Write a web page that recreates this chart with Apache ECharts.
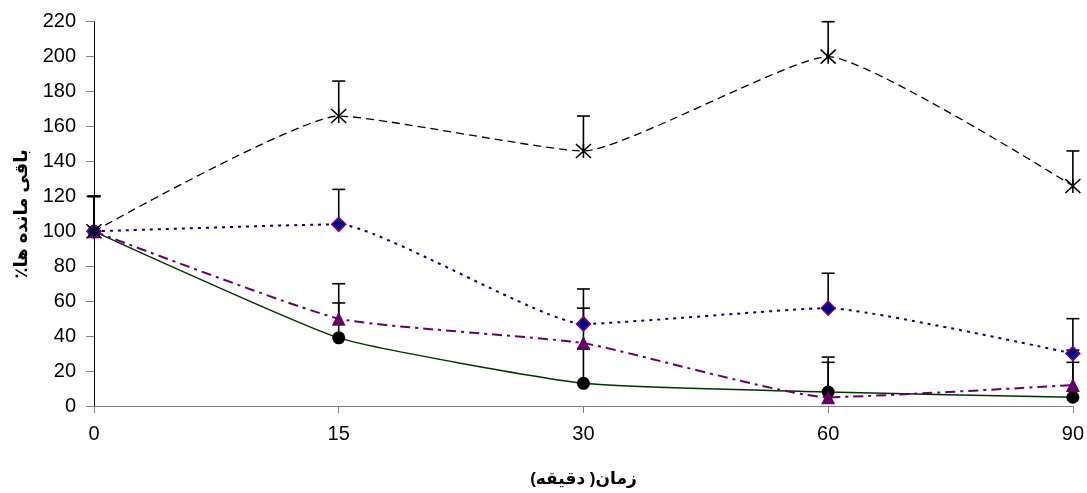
<!DOCTYPE html>
<html>
<head>
<meta charset="utf-8">
<script src="https://cdn.jsdelivr.net/npm/echarts@6/dist/echarts.min.js"></script>
<style>
html,body{margin:0;padding:0;background:#fff;}
#chart{width:1087px;height:493px;}
</style>
</head>
<body>
<div id="chart"></div>
<script>
const categories = ['0', '15', '30', '60', '90'];
const yTicks = [0, 20, 40, 60, 80, 100, 120, 140, 160, 180, 200, 220];
const starValues = [100, 166, 146, 200, 126];
const diamondValues = [100, 104, 47, 56, 30];
const triangleValues = [100, 50, 36, 5, 12];
const circleValues = [100, 39, 13, 8, 5];
const starErr = [20, 20, 20, 20, 20];
const diamondErr = [20, 20, 20, 20, 20];
const triangleErr = [20, 20, 20, 20, 20];
const circleErr = [20, 20, 20, 20, 20];
// RLM marks give the titles a right-to-left layout, as in the original
const xTitle = '\u200Fزمان( دقیقه)\u200F';
const yTitle = '\u200Fباقی مانده ها٪\u200F';

const FONT = '"Liberation Sans", Arial, "DejaVu Sans", sans-serif';

function errData(vals, errs) {
  return vals.map((v, i) => [i, v, v + errs[i]]);
}
const allErr = [].concat(
  errData(circleValues, circleErr),
  errData(triangleValues, triangleErr),
  errData(diamondValues, diamondErr),
  errData(starValues, starErr)
);

const chart = echarts.init(document.getElementById('chart'), null, {renderer: 'canvas'});
const SM = 0.15;
chart.setOption({
  animation: false,
  backgroundColor: '#fff',
  grid: {left: 94, right: 14, top: 21.7, bottom: 85, containLabel: false},
  xAxis: {
    type: 'category',
    data: categories,
    boundaryGap: false,
    axisLine: {lineStyle: {color: '#808080', width: 1}},
    axisTick: {show: true, alignWithLabel: true, length: 7, lineStyle: {color: '#808080'}},
    axisLabel: {color: '#000', fontSize: 20, fontFamily: FONT, margin: 18},
    splitLine: {show: false},
    name: xTitle,
    nameLocation: 'middle',
    nameGap: 65,
    nameTextStyle: {color: '#000', fontSize: 17, fontWeight: 'bold', fontFamily: FONT}
  },
  yAxis: {
    type: 'value',
    min: yTicks[0],
    max: yTicks[yTicks.length - 1],
    interval: 20,
    axisLine: {show: true, lineStyle: {color: '#000', width: 1}},
    axisTick: {show: true, length: 8, lineStyle: {color: '#808080'}},
    axisLabel: {color: '#000', fontSize: 20, fontFamily: FONT, margin: 18},
    splitLine: {show: false},
    name: yTitle,
    nameLocation: 'middle',
    nameGap: 63,
    nameTextStyle: {color: '#000', fontSize: 18, fontWeight: 'bold', fontFamily: FONT}
  },
  series: [
    {
      type: 'custom',
      z: 1,
      data: allErr,
      renderItem: function (params, api) {
        const x = api.value(0);
        const p0 = api.coord([x, api.value(1)]);
        const p1 = api.coord([x, api.value(2)]);
        const hw = 6.5;
        const st = {stroke: '#000', lineWidth: 1.6};
        return {
          type: 'group',
          children: [
            {type: 'line', shape: {x1: p0[0], y1: p0[1], x2: p1[0], y2: p1[1]}, style: st},
            {type: 'line', shape: {x1: p1[0] - hw, y1: p1[1], x2: p1[0] + hw, y2: p1[1]}, style: st}
          ]
        };
      }
    },
    {
      name: 'circle', type: 'line', z: 3, data: circleValues, smooth: SM,
      symbol: 'circle', symbolSize: 13,
      itemStyle: {color: '#000'},
      lineStyle: {color: '#003300', width: 1.5, type: 'solid'}
    },
    {
      name: 'triangle', type: 'line', z: 4, data: triangleValues, smooth: SM,
      symbol: 'triangle', symbolSize: 14,
      itemStyle: {color: '#660066'},
      lineStyle: {color: '#660066', width: 2, type: [10, 5, 3, 5]}
    },
    {
      name: 'diamond', type: 'line', z: 5, data: diamondValues, smooth: SM,
      symbol: 'diamond', symbolSize: 14,
      itemStyle: {color: '#000080', borderColor: '#800080', borderWidth: 1.5},
      lineStyle: {color: '#000080', width: 2, type: [3, 5]}
    },
    {
      name: 'star', type: 'line', z: 6, data: starValues, smooth: SM,
      symbol: 'path://M0,0L20,20M0,20L20,0M10,0L10,20', symbolSize: [15, 14],
      itemStyle: {color: 'transparent', borderColor: '#000', borderWidth: 1.5},
      lineStyle: {color: '#000', width: 1.3, type: [8, 5]}
    }
  ]
});
</script>
</body>
</html>
